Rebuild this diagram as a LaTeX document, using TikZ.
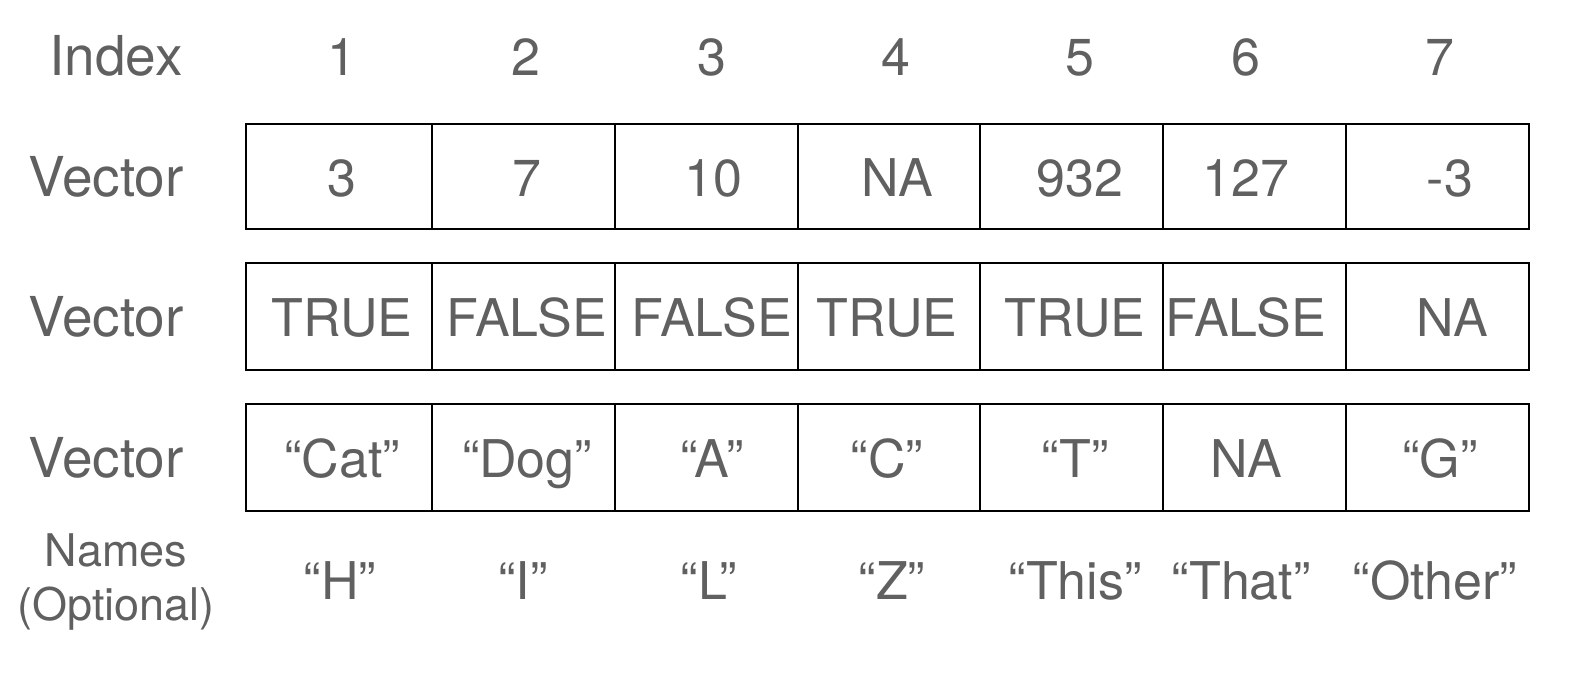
\documentclass[tikz,border=0pt]{standalone}
\usepackage{fontspec}
\setmainfont{TeX Gyre Heros}
\usepackage{tikz}
\definecolor{txtgray}{HTML}{606060}

\begin{document}
\begin{tikzpicture}[x=0.5pt,y=-0.5pt,
  cell/.style={draw=black,line width=0.75pt},
  val/.style={anchor=base,text=txtgray,font=\fontsize{26}{31}\selectfont,inner sep=0pt},
  rowname/.style={val,font=\fontsize{27.5}{33}\selectfont}]
\useasboundingbox (0,0) rectangle (1576,676);
% row labels
\node[rowname] (lindex) at (116,75) {Index};
\node[rowname] (lvec1) at (106,196) {Vector};
\node[rowname] (lvec2) at (106,336) {Vector};
\node[rowname] (lvec3) at (106,477) {Vector};
\node[text=txtgray,align=center,inner sep=0pt,
  font=\fontsize{22.5}{27}\selectfont] (lnames) at (116,582) {Names\\(Optional)};
% boxes
\foreach \top/\bot in {124/229,263/370,404/511}
  \foreach \l/\r in {246/432,432/615,615/798,798/980,980/1163,1163/1346,1346/1529}
    \draw[cell] (\l,\top) rectangle (\r,\bot);
% index
\foreach \x/\t [count=\i] in {342/1,526/2,712/3,896/4,1080/5,1246/6,1440/7}
  \node[val] (idx\i) at (\x,75) {\t};
% numbers
\foreach \x/\t [count=\i] in {342/3,527/7,713/10,897/NA,1080/932,1246/127,1450/-3}
  \node[val] (num\i) at (\x,196) {\t};
% logicals
\foreach \x/\t [count=\i] in {342/TRUE,527/FALSE,712/FALSE,887/TRUE,1075/TRUE,1246/FALSE,1452/NA}
  \node[val] (lgl\i) at (\x,336) {\t};
% characters
\foreach \x/\t [count=\i] in {342/“Cat”,527/“Dog”,712/“A”,887/“C”,1075/“T”,1246/NA,1440/“G”}
  \node[val] (chr\i) at (\x,477) {\t};
% names
\foreach \x/\t [count=\i] in {340/“H”,523/“I”,709/“L”,892/“Z”,1075/“This”,1241/“That”,1435/“Other”}
  \node[val] (nm\i) at (\x,599) {\t};
\end{tikzpicture}
\end{document}
